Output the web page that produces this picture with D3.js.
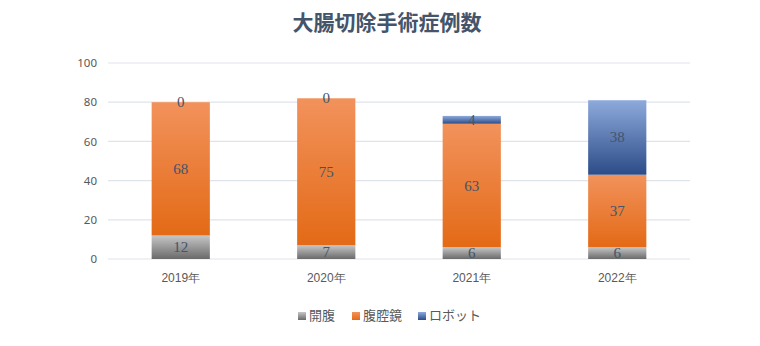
<!DOCTYPE html>
<html><head><meta charset="utf-8">
<script src="https://cdn.jsdelivr.net/npm/d3@7"></script>
<style>
body{margin:0;background:#fff;}
svg{display:block;font-family:"Noto Sans CJK JP","Noto Sans",sans-serif;}
</style></head>
<body><svg id="c" width="760" height="346"></svg>
<script>
const categories = ["2019年","2020年","2021年","2022年"];
const seriesNames = ["開腹","腹腔鏡","ロボット"];
const openValues = [12,7,6,6];
const laparoValues = [68,75,63,37];
const robotValues = [0,0,4,38];
const yTicks = [0,20,40,60,80,100];
const title = "大腸切除手術症例数";

const seriesValues = [openValues, laparoValues, robotValues];
const grads = [
  ["#c6c6c6","#6a6a6a"],
  ["#f2925c","#e36a16"],
  ["#8eaadc","#2c4c88"]
];

const svg = d3.select("#c");
const defs = svg.append("defs");
grads.forEach((g,i)=>{
  const lg = defs.append("linearGradient").attr("id","g"+i).attr("x1",0).attr("y1",0).attr("x2",0).attr("y2",1);
  lg.append("stop").attr("offset","0%").attr("stop-color",g[0]);
  lg.append("stop").attr("offset","100%").attr("stop-color",g[1]);
});

const x = d3.scaleBand().domain(categories).range([108,690]).paddingInner(0.6).paddingOuter(0.3);
const y = d3.scaleLinear().domain([0,100]).range([259,63]);

svg.append("text").attr("x",387).attr("y",30).attr("text-anchor","middle")
  .attr("font-size",21).attr("font-weight","bold").attr("fill","#44546a").text(title);

// grid
svg.append("g").selectAll("line").data(yTicks).join("line")
  .attr("x1",108).attr("x2",690).attr("y1",d=>y(d)).attr("y2",d=>y(d))
  .attr("stroke","#dfe3ea").attr("stroke-width",1.2);

// y axis labels
const yAxis = d3.axisLeft(y).tickValues(yTicks).tickSize(0).tickPadding(0);
const ya = svg.append("g").attr("transform","translate(97,0)").call(yAxis);
ya.select(".domain").remove();
ya.selectAll("text").attr("font-size",11.5).attr("fill","#595959").attr("font-family","'Noto Sans','DejaVu Sans',sans-serif");

// x axis labels
const xAxis = d3.axisBottom(x).tickSize(0).tickPadding(0);
const xa = svg.append("g").attr("transform","translate(0,273)").call(xAxis);
xa.select(".domain").remove();
xa.selectAll("text").attr("font-size",12).attr("fill","#595959");

// stacked bars
const rows = categories.map((c,i)=>{const o={cat:c}; seriesNames.forEach((s,j)=>o[s]=seriesValues[j][i]); return o;});
const stack = d3.stack().keys(seriesNames)(rows);
stack.forEach((layer,j)=>{
  const g = svg.append("g");
  g.selectAll("rect").data(layer).join("rect")
    .attr("x",d=>x(d.data.cat)).attr("width",x.bandwidth())
    .attr("y",d=>y(d[1])).attr("height",d=>y(d[0])-y(d[1]))
    .attr("fill",`url(#g${j})`);
});
stack.forEach((layer,j)=>{
  svg.append("g").selectAll("text").data(layer).join("text")
    .attr("x",d=>x(d.data.cat)+x.bandwidth()/2)
    .attr("y",d=>(y(d[0])+y(d[1]))/2+5)
    .attr("text-anchor","middle")
    .attr("font-family","'Liberation Serif','DejaVu Serif',serif")
    .attr("font-size",15).attr("fill","#44546a")
    .text(d=>d[1]-d[0]);
});

// legend
const legendX = [298,352,418];
const lg = svg.append("g");
seriesNames.forEach((s,j)=>{
  lg.append("rect").attr("x",legendX[j]).attr("y",312).attr("width",8).attr("height",8).attr("fill",`url(#g${j})`);
  lg.append("text").attr("x",legendX[j]+11).attr("y",320).attr("font-size",13).attr("fill","#595959").text(s);
});
</script></body></html>
